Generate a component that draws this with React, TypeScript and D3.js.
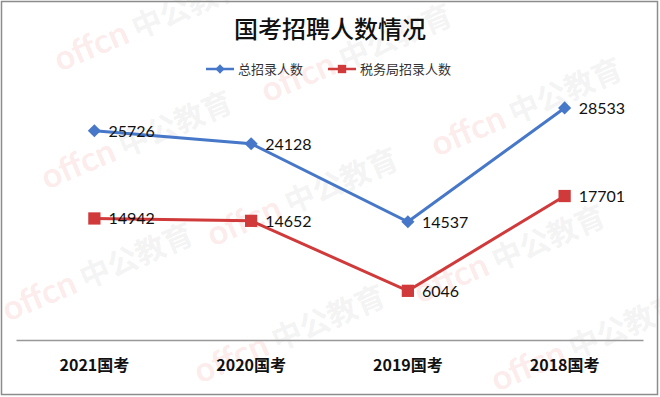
import React, { useEffect, useRef } from "react";
import * as d3 from "d3";

const categories = ["2021国考", "2020国考", "2019国考", "2018国考"];
const totalRecruits = [25726, 24128, 14537, 28533];
const taxRecruits = [14942, 14652, 6046, 17701];
const seriesNames = ["总招录人数", "税务局招录人数"];
const chartTitle = "国考招聘人数情况";
const watermarkBrand = "offcn";
const watermarkName = "中公教育";

const W = 660;
const H = 397;
const BLUE = "#4677c8";
const RED = "#d03a3a";

const App = () => {
  const svgRef = useRef<SVGSVGElement>(null);

  useEffect(() => {
    const svg = d3.select(svgRef.current);
    svg.selectAll("*").remove();

    const margin = { top: 96, right: 17, bottom: 57, left: 16 };
    const plotW = W - margin.left - margin.right;
    const plotH = H - margin.top - margin.bottom;

    svg.append("rect").attr("width", W).attr("height", H).attr("fill", "#fff");

    // watermark stamps, placed roughly where the reference shows them
    const wm = svg.append("g").attr("pointer-events", "none");
    const stamps: [number, number][] = [
      [60, 72], [47, 190], [267, 103], [437, 157], [213, 247],
      [8, 322], [200, 384], [420, 304], [497, 392],
    ];
    stamps.forEach(([x, y]) => {
      const t = wm.append("g").attr("transform", `translate(${x},${y}) rotate(-23)`);
      t.append("text")
        .attr("font-family", "Lato, sans-serif")
        .attr("font-weight", 700)
        .attr("font-size", 34)
        .attr("fill", "rgba(225,60,60,0.11)")
        .text(watermarkBrand);
      t.append("text")
        .attr("x", 84)
        .attr("font-family", "'Noto Sans CJK SC', sans-serif")
        .attr("font-weight", 700)
        .attr("font-size", 30)
        .attr("fill", "rgba(140,140,140,0.11)")
        .text(watermarkName);
    });

    // outer border
    svg.append("rect")
      .attr("x", 1.5).attr("y", 1.5)
      .attr("width", W - 4).attr("height", H - 4)
      .attr("fill", "none").attr("stroke", "#8c8c8c").attr("stroke-width", 1.5);

    // title
    svg.append("text")
      .attr("x", 330).attr("y", 38)
      .attr("text-anchor", "middle")
      .attr("font-family", "'Noto Sans CJK SC', sans-serif")
      .attr("font-weight", 500)
      .attr("font-size", 24)
      .attr("fill", "#111")
      .text(chartTitle);

    const g = svg.append("g").attr("transform", `translate(${margin.left},${margin.top})`);

    const x = d3.scaleBand().domain(categories).range([0, plotW]);
    const y = d3.scaleLinear().domain([0, 30000]).range([plotH, 0]);
    const cx = (c: string) => (x(c) as number) + x.bandwidth() / 2;

    // x axis
    const xAxis = g.append("g")
      .attr("transform", `translate(0,${plotH})`)
      .call(d3.axisBottom(x).tickSize(0).tickPadding(20));
    xAxis.select(".domain").attr("stroke", "#999").attr("stroke-width", 1.5);
    xAxis.selectAll("text")
      .attr("font-family", "'Noto Sans CJK SC', sans-serif")
      .attr("font-weight", 700)
      .attr("font-size", 16)
      .attr("fill", "#111");

    const series = [
      { name: seriesNames[0], values: totalRecruits, color: BLUE, marker: "diamond" },
      { name: seriesNames[1], values: taxRecruits, color: RED, marker: "square" },
    ];

    const lineGen = d3.line<number>()
      .x((_, i) => cx(categories[i]))
      .y((d) => y(d));

    series.forEach((s) => {
      g.append("path")
        .datum(s.values)
        .attr("fill", "none")
        .attr("stroke", s.color)
        .attr("stroke-width", 3)
        .attr("d", lineGen);

      const sym = d3.symbol()
        .type(s.marker === "diamond" ? d3.symbolDiamond2 : d3.symbolSquare)
        .size(s.marker === "diamond" ? 110 : 150);

      g.selectAll(null)
        .data(s.values)
        .enter()
        .append("path")
        .attr("d", sym)
        .attr("transform", (d, i) => `translate(${cx(categories[i])},${y(d)})`)
        .attr("fill", s.color);

      g.selectAll(null)
        .data(s.values)
        .enter()
        .append("text")
        .attr("x", (_, i) => cx(categories[i]) + 14)
        .attr("y", (d) => y(d) + 6)
        .attr("font-family", "Lato, 'Open Sans', sans-serif")
        .attr("font-size", 16)
        .attr("fill", "#111")
        .text((d) => String(d));
    });

    // legend
    const legend = svg.append("g").attr("transform", "translate(206,69)");
    const legendItems = [
      { x: 0, ...series[0] },
      { x: 122, ...series[1] },
    ];
    legendItems.forEach((it) => {
      const lg = legend.append("g").attr("transform", `translate(${it.x},0)`);
      lg.append("line").attr("x1", 0).attr("x2", 28).attr("stroke", it.color).attr("stroke-width", 2.5);
      lg.append("path")
        .attr("d", d3.symbol().type(it.marker === "diamond" ? d3.symbolDiamond2 : d3.symbolSquare)
          .size(it.marker === "diamond" ? 55 : 70)())
        .attr("transform", "translate(14,0)")
        .attr("fill", it.color);
      lg.append("text")
        .attr("x", 32).attr("y", 5)
        .attr("font-family", "'Noto Sans CJK SC', sans-serif")
        .attr("font-size", 13)
        .attr("fill", "#333")
        .text(it.name);
    });
  }, []);

  return (
    <div style={{ position: "absolute", left: 0, top: 0 }}>
      <svg ref={svgRef} width={W} height={H} style={{ display: "block" }} />
    </div>
  );
};

export default App;
